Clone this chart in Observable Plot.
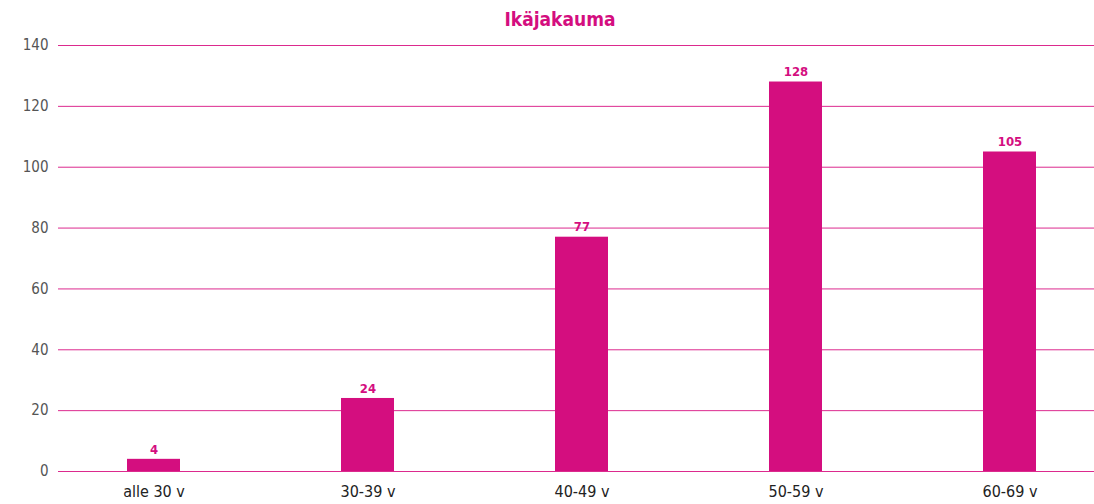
<!DOCTYPE html>
<html>
<head>
<meta charset="utf-8">
<script src="https://cdn.jsdelivr.net/npm/d3@7"></script>
<script src="https://cdn.jsdelivr.net/npm/@observablehq/plot@0.6"></script>
<style>
  html, body { margin: 0; padding: 0; background: #fff; }
  body { width: 1094px; height: 504px; overflow: hidden; font-family: "Liberation Sans Narrow", "DejaVu Sans Condensed", "Roboto Condensed", sans-serif; font-stretch: condensed; }
  #title { height: 30px; line-height: 38px; text-align: center; padding-left: 26px; box-sizing: border-box; color: #d40e7f; font-weight: bold; font-size: 19px; }
</style>
</head>
<body>
<div id="title">Ikäjakauma</div>
<div id="chart"></div>
<script>
const categories = ["alle 30 v", "30-39 v", "40-49 v", "50-59 v", "60-69 v"];
const values = [4, 24, 77, 128, 105];
const yTicks = [0, 20, 40, 60, 80, 100, 120, 140];

const data = categories.map((c, i) => ({category: c, value: values[i]}));
const magenta = "#d40e7f";
const font = '"Liberation Sans Narrow", "DejaVu Sans Condensed", "Roboto Condensed", sans-serif';

const chart = Plot.plot({
  width: 1094,
  height: 474,
  marginTop: 15,
  marginBottom: 33,
  marginLeft: 58,
  marginRight: 0,
  style: {fontFamily: font, background: "white", overflow: "visible"},
  x: {domain: categories, paddingInner: 0.752, paddingOuter: 0.29, align: 0.54, label: null},
  y: {domain: [0, 140], label: null},
  marks: [
    Plot.ruleY(yTicks, {stroke: "#dc2a8e", strokeWidth: 1}),
    Plot.axisY({ticks: yTicks, tickSize: 0, tickPadding: 10, fontSize: 15, fill: "#555", label: null}),
    Plot.axisX({tickSize: 0, tickPadding: 14, fontSize: 16, fill: "#222", label: null}),
    Plot.barY(data, {x: "category", y: "value", fill: magenta}),
    Plot.text(data, {x: "category", y: "value", text: d => String(d.value), dy: -10, fill: magenta, fontWeight: "bold", fontSize: 13})
  ]
});
document.getElementById("chart").appendChild(chart);
</script>
</body>
</html>
